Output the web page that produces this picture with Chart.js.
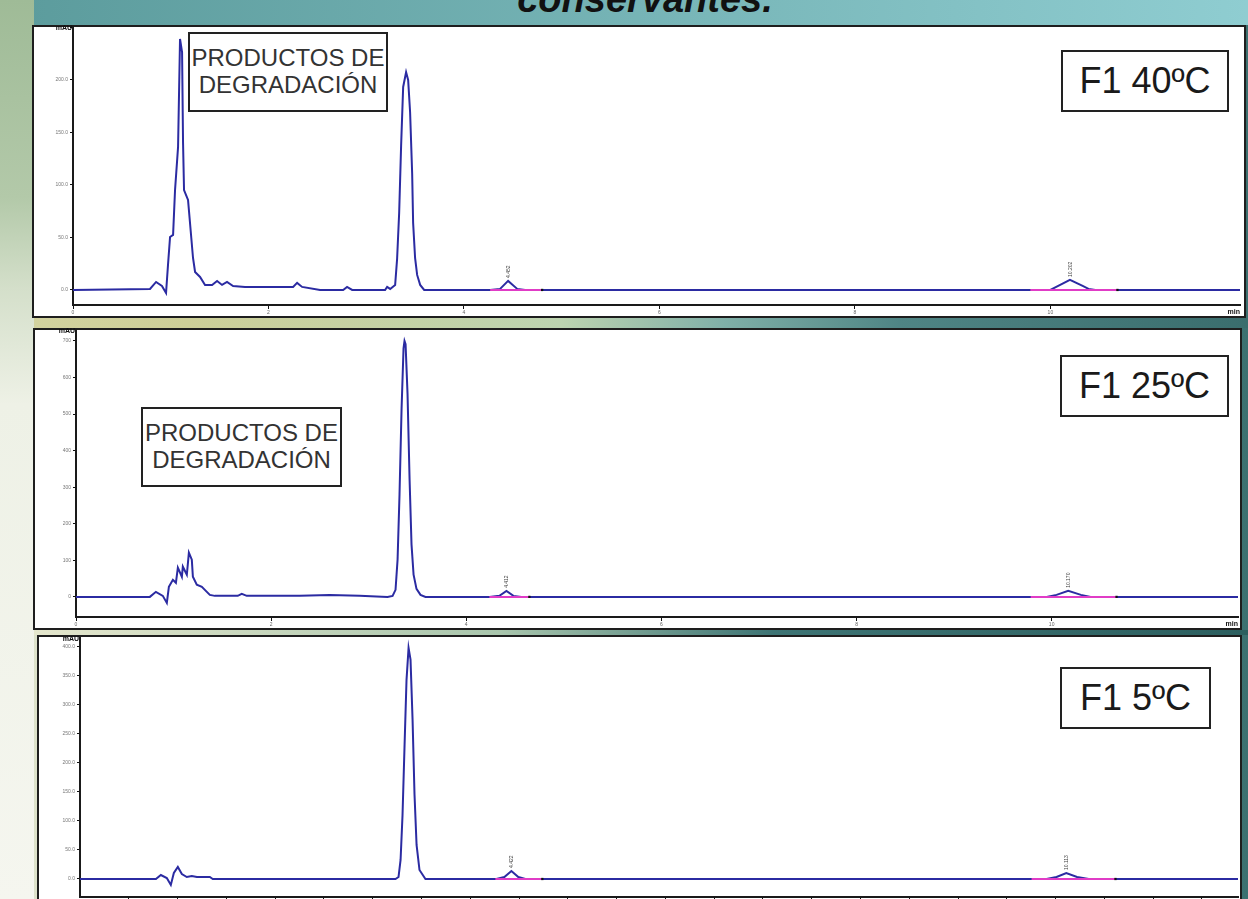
<!DOCTYPE html>
<html lang="es">
<head>
<meta charset="utf-8">
<title>Cromatogramas F1</title>
<script src="https://cdn.jsdelivr.net/npm/chart.js@4.4.1/dist/chart.umd.min.js"></script>
<style>
  html, body { margin: 0; padding: 0; }
  body {
    width: 1248px; height: 899px; overflow: hidden; position: relative;
    font-family: "Liberation Sans", Arial, sans-serif;
    background: linear-gradient(to right, #dfe3cc 0%, #c4d7b4 40%, #6a9c9a 65%, #3b7070 100%);
  }
  .franja { position: absolute; left: 0; width: 1248px; }
  .banda-sup { top: 0; height: 25px; background: linear-gradient(to right, #5b9b9c 0%, #78b6b8 55%, #8fcdd1 100%); }
  .franja-1 { top: 318px; height: 10px; background: linear-gradient(to right, #d3d3a0 0%, #cdcf98 15%, #bdd4b0 45%, #80b0a8 58%, #4f8585 72%, #3a6d6d 100%); }
  .franja-2 { top: 630px; height: 5px; background: linear-gradient(to right, #e9e9cf 0%, #a9c6ad 40%, #3d7474 62%, #2c5f5f 100%); }
  .margen-izq {
    position: absolute; left: 0; top: 0; width: 34px; height: 899px;
    background: linear-gradient(to bottom, #9fbb97 0%, #b3c9a9 22%, #d4dfca 32%, #eef1e6 45%, #f5f6ef 100%);
  }
  .titulo {
    position: absolute; left: 0; width: 1290px; top: -20px; line-height: 38px;
    text-align: center; font-size: 38px; font-weight: bold; font-style: italic; color: #111;
  }
  .panel { position: absolute; box-sizing: border-box; border: 2px solid #1e1e1e; background: #fff; }
  canvas { position: absolute; }
  .caja {
    position: absolute; box-sizing: border-box; border: 2px solid #222; background: #fff;
    text-align: center; color: #333; white-space: nowrap;
  }
  .caja.degr { font-size: 24px; line-height: 27px; padding-top: 10px; }
  .caja.temp { font-size: 36px; line-height: 58px; color: #1a1a1a; }
</style>
</head>
<body>

<div class="franja banda-sup"></div>
<div class="titulo">conservantes.</div>
<div class="franja franja-1"></div>
<div class="franja franja-2"></div>
<div class="margen-izq"></div>

<div class="panel" style="left:32px; top:25px; width:1214px; height:293px;"></div>
<div class="panel" style="left:33px; top:328px; width:1209px; height:302px;"></div>
<div class="panel" style="left:37px; top:635px; width:1205px; height:300px;"></div>

<canvas id="graf40" width="1226" height="300" style="left:20px; top:20px;"></canvas>
<canvas id="graf25" width="1222" height="315" style="left:20px; top:322px;"></canvas>
<canvas id="graf5" width="1222" height="300" style="left:20px; top:628px;"></canvas>

<div class="caja degr" style="left:188px; top:32px; width:200px; height:80px;">PRODUCTOS DE<br>DEGRADACIÓN</div>
<div class="caja temp" style="left:1061px; top:50px; width:168px; height:62px;">F1 40ºC</div>
<div class="caja degr" style="left:141px; top:407px; width:201px; height:80px;">PRODUCTOS DE<br>DEGRADACIÓN</div>
<div class="caja temp" style="left:1060px; top:355px; width:169px; height:62px;">F1 25ºC</div>
<div class="caja temp" style="left:1060px; top:667px; width:151px; height:62px;">F1 5ºC</div>

<script>

// F1 40ºC
const f40Tiempo = [0, 0.788, 0.85, 0.91, 0.952, 0.972, 0.993, 1.024, 1.044, 1.075, 1.095, 1.116, 1.126, 1.136,
  1.177, 1.228, 1.249, 1.3, 1.351, 1.423, 1.474, 1.525, 1.576, 1.638, 1.76, 2.252, 2.293, 2.344, 2.528,
  2.764, 2.804, 2.856, 3.193, 3.214, 3.245, 3.296, 3.316, 3.337, 3.357, 3.378, 3.408, 3.429, 3.449, 3.47,
  3.48, 3.5, 3.521, 3.552, 3.593, 4.268, 4.37, 4.452, 4.545, 4.626, 10.0, 10.02, 10.08, 10.2, 10.33,
  10.39, 10.46, 11.94];
const f40Senal = [0, 1, 7.6, 3.8, -2.9, 23.8, 50.4, 52.3, 95, 136, 238.6, 226, 139.7, 95,
  85.6, 30.4, 17.1, 12.4, 4.8, 4.8, 8.6, 4.8, 7.6, 3.8, 2.9, 2.9, 6.7, 2.9, 0,
  0, 2.9, 0, 0, 2.9, 1, 4.8, 29.5, 73.2, 137, 193, 207, 199.6, 169, 111,
  63.7, 30.4, 14.3, 4.8, 0, 0, 1, 8.6, 1, 0, 0, 1, 3.8, 9.5, 3.8,
  1, 0, 0];
const f40Ventanas = [[4.268, 4.8], [9.795, 10.686]];
const f40Picos = ['4.452', '10.202'];
const f40TicksY = [0, 50, 100, 150, 200, 250];

// F1 25ºC
const f25Tiempo = [0, 0.757, 0.819, 0.89, 0.931, 0.952, 0.993, 1.024, 1.044, 1.085, 1.095, 1.136, 1.157,
  1.187, 1.198, 1.238, 1.29, 1.341, 1.372, 1.423, 1.658, 1.699, 1.75, 2.293, 2.6, 2.907, 3.193, 3.245,
  3.275, 3.296, 3.316, 3.337, 3.357, 3.367, 3.378, 3.398, 3.419, 3.439, 3.46, 3.49, 3.531, 3.582,
  4.237, 4.34, 4.412, 4.483, 4.565, 9.949, 10.05, 10.17, 10.3, 10.4, 11.91];
const f25Senal = [0, 0, 13.8, 2.8, -16.5, 27.5, 46.8, 38.6, 79.9, 55.1, 82.6, 60.6, 121.2,
  101.9, 55.1, 33.1, 27.5, 13.8, 5.5, 2.8, 2.8, 8.3, 2.8, 2.8, 5.5, 2.8, 0, 2.8,
  19.3, 102, 281, 515, 680, 700, 691, 556, 322, 143, 60.6, 22, 5.5, 0,
  0, 2.8, 16.5, 2.8, 0, 0, 5.5, 16.5, 5.5, 0, 0];
const f25Ventanas = [[4.237, 4.647], [9.785, 10.665]];
const f25Picos = ['4.412', '10.170'];
const f25TicksY = [0, 100, 200, 300, 400, 500, 600, 700];

// F1 5ºC
const f5Tiempo = [0, 0.778, 0.829, 0.89, 0.931, 0.962, 1.003, 1.044, 1.095, 1.146, 1.198, 1.331, 1.361,
  3.234, 3.265, 3.286, 3.306, 3.327, 3.347, 3.368, 3.388, 3.409, 3.429, 3.45, 3.48, 3.541,
  4.268, 4.35, 4.422, 4.493, 4.565, 9.908, 10.01, 10.11, 10.22, 10.34, 11.87];
const f5Senal = [0, 0, 6.9, 1.7, -10.3, 10.3, 20.7, 8.6, 3.4, 5.2, 3.4, 3.4, 0,
  0, 3.4, 32.8, 110, 231, 343, 398, 378, 274, 145, 58.6, 15.5, 0,
  0, 3.4, 13.8, 3.4, 0, 0, 3.4, 10.3, 3.4, 0, 0];
const f5Ventanas = [[4.258, 4.739], [9.754, 10.614]];
const f5Picos = ['4.422', '10.113'];
const f5TicksY = [0, 50, 100, 150, 200, 250, 300, 350, 400];

// eje de tiempo
const ticksMin = [0, 2, 4, 6, 8, 10];
const ticksMinFinos = [0.5, 1, 1.5, 2, 2.5, 3, 3.5, 4, 4.5, 5, 5.5, 6, 6.5, 7, 7.5, 8, 8.5, 9, 9.5, 10, 10.5, 11, 11.5];

Chart.defaults.font.family = '"Liberation Sans", Arial, sans-serif';

// --- PLUGIN: rótulos pequeños (mAU, min, tiempos de retención) ---
const rotulos = {
  id: 'rotulos',
  afterDatasetsDraw(chart, args, opts) {
    const { ctx, chartArea, scales: { x, y } } = chart;
    ctx.save();
    ctx.fillStyle = '#111';
    ctx.font = 'bold 7px "Liberation Sans"';
    ctx.textAlign = 'right';
    ctx.textBaseline = 'middle';
    ctx.fillText('mAU', chartArea.left - 1, chartArea.top + 1);
    ctx.textBaseline = 'top';
    ctx.fillText('min', chartArea.right, chartArea.bottom + 4);

    // tiempos de retención encima de los picos pequeños
    const tiempos = chart.data.datasets[chart.data.datasets.length - 1].data;
    ctx.font = '5px "Liberation Sans"';
    ctx.fillStyle = '#444';
    ctx.textAlign = 'left';
    ctx.textBaseline = 'middle';
    opts.picos.forEach(txt => {
      const t = parseFloat(txt);
      let alto = 0;
      tiempos.forEach(p => { if (Math.abs(p.x - t) < 0.08 && p.y > alto) alto = p.y; });
      const px = x.getPixelForValue(t);
      const py = y.getPixelForValue(alto) - 3;
      ctx.save();
      ctx.translate(px, py);
      ctx.rotate(-Math.PI / 2);
      ctx.fillText(txt, 0, 0);
      ctx.restore();
    });
    ctx.restore();
  }
};

// --- CREACIÓN DE CADA CROMATOGRAMA ---
function crearCromatograma(idCanvas, cfg) {
  const traza = cfg.tiempo.map((t, i) => ({ x: t, y: cfg.senal[i] }));

  // línea base de integración (rosa) con marca negra al final
  const ventanas = cfg.ventanas.map(v => ({
    data: [{ x: v[0], y: 0 }, { x: v[1], y: 0 }],
    borderColor: '#e03cc6',
    borderWidth: 2,
    pointRadius: [0, 1.6],
    pointStyle: 'rect',
    pointBackgroundColor: '#111',
    pointBorderWidth: 0
  }));

  return new Chart(document.getElementById(idCanvas), {
    type: 'line',
    data: {
      datasets: [...ventanas, {
        data: traza,
        borderColor: '#2b2ba2',
        borderWidth: 2,
        pointRadius: 0,
        tension: 0
      }]
    },
    plugins: [rotulos],
    options: {
      responsive: false,
      animation: false,
      events: [],
      layout: { padding: cfg.relleno },
      plugins: {
        legend: { display: false },
        tooltip: { enabled: false },
        rotulos: { picos: cfg.picos }
      },
      scales: {
        x: {
          type: 'linear',
          min: 0,
          max: cfg.xMax,
          afterFit: s => { s.height = cfg.altoX; },
          afterBuildTicks: s => { s.ticks = cfg.ticksX.map(v => ({ value: v })); },
          grid: { drawOnChartArea: false, drawTicks: true, tickLength: 4, color: '#111' },
          border: { display: true, color: '#1a1a1a', width: 2 },
          ticks: { font: { size: 5 }, color: '#666', padding: 1, maxRotation: 0, autoSkip: false }
        },
        y: {
          min: cfg.yMin,
          max: cfg.yMax,
          afterFit: s => { s.width = cfg.anchoY; },
          afterBuildTicks: s => { s.ticks = cfg.ticksY.map(v => ({ value: v })); },
          grid: { drawOnChartArea: false, drawTicks: true, tickLength: 3, color: '#111' },
          border: { display: true, color: '#1a1a1a', width: 2 },
          ticks: {
            font: { size: 5 }, color: '#777', padding: 2, autoSkip: false,
            callback: v => (v >= cfg.yMax ? '' : v.toFixed(cfg.decimales))
          }
        }
      }
    }
  });
}

crearCromatograma('graf40', {
  tiempo: f40Tiempo, senal: f40Senal, ventanas: f40Ventanas, picos: f40Picos,
  ticksX: ticksMin, ticksY: f40TicksY, decimales: 1,
  xMax: 11.94, yMin: -14.3, yMax: 250,
  relleno: { top: 7, right: 6, left: 0, bottom: 0 }, anchoY: 53, altoX: 15
});

crearCromatograma('graf25', {
  tiempo: f25Tiempo, senal: f25Senal, ventanas: f25Ventanas, picos: f25Picos,
  ticksX: ticksMin, ticksY: f25TicksY, decimales: 0,
  xMax: 11.91, yMin: -55, yMax: 730,
  relleno: { top: 8, right: 2, left: 0, bottom: 0 }, anchoY: 56, altoX: 20
});

crearCromatograma('graf5', {
  tiempo: f5Tiempo, senal: f5Senal, ventanas: f5Ventanas, picos: f5Picos,
  ticksX: ticksMinFinos, ticksY: f5TicksY, decimales: 1,
  xMax: 11.87, yMin: -31, yMax: 415,
  relleno: { top: 10, right: 2, left: 0, bottom: 0 }, anchoY: 60, altoX: 31
});
</script>
</body>
</html>
